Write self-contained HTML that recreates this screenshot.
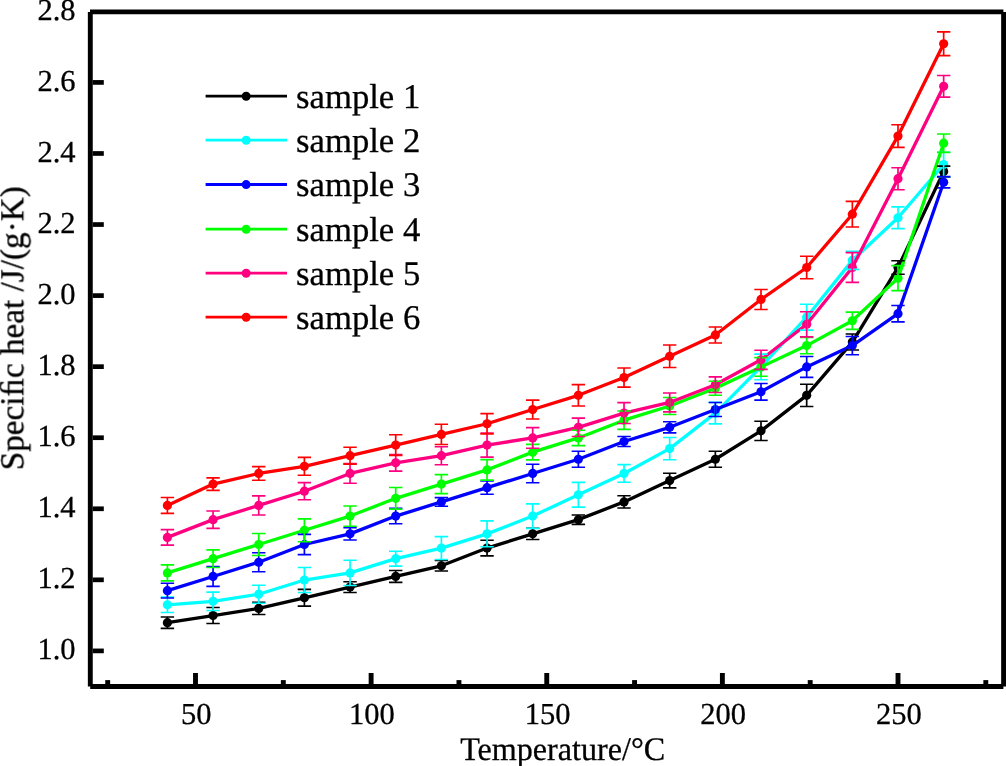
<!DOCTYPE html><html><head><meta charset="utf-8"><style>html,body{margin:0;padding:0;background:#fff;}svg{display:block;} text{text-rendering:geometricPrecision;} .t{opacity:0.999;stroke:#000;stroke-width:0.3px;}</style></head><body>
<svg width="1006" height="766" viewBox="0 0 1006 766">
<rect width="1006" height="766" fill="#fff"/>
<g><path d="M167.40 622.63 L213.06 615.52 L258.73 608.42 L304.39 597.77 L350.05 587.11 L395.71 576.46 L441.38 565.80 L487.04 548.05 L532.70 533.84 L578.36 519.63 L624.03 501.88 L669.69 480.57 L715.35 459.26 L761.01 430.85 L806.68 395.33 L852.34 342.06 L898.00 267.48 L943.66 171.59" stroke="#000000" stroke-width="3.3" fill="none" stroke-linejoin="round"/><circle cx="167.40" cy="622.63" r="4.6" fill="#000000"/><circle cx="213.06" cy="615.52" r="4.6" fill="#000000"/><circle cx="258.73" cy="608.42" r="4.6" fill="#000000"/><circle cx="304.39" cy="597.77" r="4.6" fill="#000000"/><circle cx="350.05" cy="587.11" r="4.6" fill="#000000"/><circle cx="395.71" cy="576.46" r="4.6" fill="#000000"/><circle cx="441.38" cy="565.80" r="4.6" fill="#000000"/><circle cx="487.04" cy="548.05" r="4.6" fill="#000000"/><circle cx="532.70" cy="533.84" r="4.6" fill="#000000"/><circle cx="578.36" cy="519.63" r="4.6" fill="#000000"/><circle cx="624.03" cy="501.88" r="4.6" fill="#000000"/><circle cx="669.69" cy="480.57" r="4.6" fill="#000000"/><circle cx="715.35" cy="459.26" r="4.6" fill="#000000"/><circle cx="761.01" cy="430.85" r="4.6" fill="#000000"/><circle cx="806.68" cy="395.33" r="4.6" fill="#000000"/><circle cx="852.34" cy="342.06" r="4.6" fill="#000000"/><circle cx="898.00" cy="267.48" r="4.6" fill="#000000"/><circle cx="943.66" cy="171.59" r="4.6" fill="#000000"/></g>
<g><path d="M167.40 604.87 L213.06 601.32 L258.73 594.22 L304.39 580.01 L350.05 572.91 L395.71 558.70 L441.38 548.05 L487.04 533.84 L532.70 516.08 L578.36 494.77 L624.03 473.46 L669.69 448.60 L715.35 413.09 L761.01 366.92 L806.68 317.20 L852.34 260.37 L898.00 217.76 L943.66 164.48" stroke="#00FFFF" stroke-width="3.3" fill="none" stroke-linejoin="round"/><circle cx="167.40" cy="604.87" r="4.6" fill="#00FFFF"/><circle cx="213.06" cy="601.32" r="4.6" fill="#00FFFF"/><circle cx="258.73" cy="594.22" r="4.6" fill="#00FFFF"/><circle cx="304.39" cy="580.01" r="4.6" fill="#00FFFF"/><circle cx="350.05" cy="572.91" r="4.6" fill="#00FFFF"/><circle cx="395.71" cy="558.70" r="4.6" fill="#00FFFF"/><circle cx="441.38" cy="548.05" r="4.6" fill="#00FFFF"/><circle cx="487.04" cy="533.84" r="4.6" fill="#00FFFF"/><circle cx="532.70" cy="516.08" r="4.6" fill="#00FFFF"/><circle cx="578.36" cy="494.77" r="4.6" fill="#00FFFF"/><circle cx="624.03" cy="473.46" r="4.6" fill="#00FFFF"/><circle cx="669.69" cy="448.60" r="4.6" fill="#00FFFF"/><circle cx="715.35" cy="413.09" r="4.6" fill="#00FFFF"/><circle cx="761.01" cy="366.92" r="4.6" fill="#00FFFF"/><circle cx="806.68" cy="317.20" r="4.6" fill="#00FFFF"/><circle cx="852.34" cy="260.37" r="4.6" fill="#00FFFF"/><circle cx="898.00" cy="217.76" r="4.6" fill="#00FFFF"/><circle cx="943.66" cy="164.48" r="4.6" fill="#00FFFF"/></g>
<g><path d="M167.40 590.66 L213.06 576.46 L258.73 562.25 L304.39 544.49 L350.05 533.84 L395.71 516.08 L441.38 501.88 L487.04 487.67 L532.70 473.46 L578.36 459.26 L624.03 441.50 L669.69 427.30 L715.35 409.54 L761.01 391.78 L806.68 366.92 L852.34 345.61 L898.00 313.65 L943.66 182.24" stroke="#0000FF" stroke-width="3.3" fill="none" stroke-linejoin="round"/><circle cx="167.40" cy="590.66" r="4.6" fill="#0000FF"/><circle cx="213.06" cy="576.46" r="4.6" fill="#0000FF"/><circle cx="258.73" cy="562.25" r="4.6" fill="#0000FF"/><circle cx="304.39" cy="544.49" r="4.6" fill="#0000FF"/><circle cx="350.05" cy="533.84" r="4.6" fill="#0000FF"/><circle cx="395.71" cy="516.08" r="4.6" fill="#0000FF"/><circle cx="441.38" cy="501.88" r="4.6" fill="#0000FF"/><circle cx="487.04" cy="487.67" r="4.6" fill="#0000FF"/><circle cx="532.70" cy="473.46" r="4.6" fill="#0000FF"/><circle cx="578.36" cy="459.26" r="4.6" fill="#0000FF"/><circle cx="624.03" cy="441.50" r="4.6" fill="#0000FF"/><circle cx="669.69" cy="427.30" r="4.6" fill="#0000FF"/><circle cx="715.35" cy="409.54" r="4.6" fill="#0000FF"/><circle cx="761.01" cy="391.78" r="4.6" fill="#0000FF"/><circle cx="806.68" cy="366.92" r="4.6" fill="#0000FF"/><circle cx="852.34" cy="345.61" r="4.6" fill="#0000FF"/><circle cx="898.00" cy="313.65" r="4.6" fill="#0000FF"/><circle cx="943.66" cy="182.24" r="4.6" fill="#0000FF"/></g>
<g><path d="M167.40 572.91 L213.06 558.70 L258.73 544.49 L304.39 530.29 L350.05 516.08 L395.71 498.33 L441.38 484.12 L487.04 469.91 L532.70 452.16 L578.36 437.95 L624.03 420.19 L669.69 405.99 L715.35 388.23 L761.01 366.92 L806.68 345.61 L852.34 320.75 L898.00 278.13 L943.66 143.18" stroke="#00FF00" stroke-width="3.3" fill="none" stroke-linejoin="round"/><circle cx="167.40" cy="572.91" r="4.6" fill="#00FF00"/><circle cx="213.06" cy="558.70" r="4.6" fill="#00FF00"/><circle cx="258.73" cy="544.49" r="4.6" fill="#00FF00"/><circle cx="304.39" cy="530.29" r="4.6" fill="#00FF00"/><circle cx="350.05" cy="516.08" r="4.6" fill="#00FF00"/><circle cx="395.71" cy="498.33" r="4.6" fill="#00FF00"/><circle cx="441.38" cy="484.12" r="4.6" fill="#00FF00"/><circle cx="487.04" cy="469.91" r="4.6" fill="#00FF00"/><circle cx="532.70" cy="452.16" r="4.6" fill="#00FF00"/><circle cx="578.36" cy="437.95" r="4.6" fill="#00FF00"/><circle cx="624.03" cy="420.19" r="4.6" fill="#00FF00"/><circle cx="669.69" cy="405.99" r="4.6" fill="#00FF00"/><circle cx="715.35" cy="388.23" r="4.6" fill="#00FF00"/><circle cx="761.01" cy="366.92" r="4.6" fill="#00FF00"/><circle cx="806.68" cy="345.61" r="4.6" fill="#00FF00"/><circle cx="852.34" cy="320.75" r="4.6" fill="#00FF00"/><circle cx="898.00" cy="278.13" r="4.6" fill="#00FF00"/><circle cx="943.66" cy="143.18" r="4.6" fill="#00FF00"/></g>
<g><path d="M167.40 537.39 L213.06 519.63 L258.73 505.43 L304.39 491.22 L350.05 473.46 L395.71 462.81 L441.38 455.71 L487.04 445.05 L532.70 437.95 L578.36 427.30 L624.03 413.09 L669.69 402.44 L715.35 384.68 L761.01 359.82 L806.68 324.30 L852.34 267.48 L898.00 178.69 L943.66 86.35" stroke="#FF0080" stroke-width="3.3" fill="none" stroke-linejoin="round"/><circle cx="167.40" cy="537.39" r="4.6" fill="#FF0080"/><circle cx="213.06" cy="519.63" r="4.6" fill="#FF0080"/><circle cx="258.73" cy="505.43" r="4.6" fill="#FF0080"/><circle cx="304.39" cy="491.22" r="4.6" fill="#FF0080"/><circle cx="350.05" cy="473.46" r="4.6" fill="#FF0080"/><circle cx="395.71" cy="462.81" r="4.6" fill="#FF0080"/><circle cx="441.38" cy="455.71" r="4.6" fill="#FF0080"/><circle cx="487.04" cy="445.05" r="4.6" fill="#FF0080"/><circle cx="532.70" cy="437.95" r="4.6" fill="#FF0080"/><circle cx="578.36" cy="427.30" r="4.6" fill="#FF0080"/><circle cx="624.03" cy="413.09" r="4.6" fill="#FF0080"/><circle cx="669.69" cy="402.44" r="4.6" fill="#FF0080"/><circle cx="715.35" cy="384.68" r="4.6" fill="#FF0080"/><circle cx="761.01" cy="359.82" r="4.6" fill="#FF0080"/><circle cx="806.68" cy="324.30" r="4.6" fill="#FF0080"/><circle cx="852.34" cy="267.48" r="4.6" fill="#FF0080"/><circle cx="898.00" cy="178.69" r="4.6" fill="#FF0080"/><circle cx="943.66" cy="86.35" r="4.6" fill="#FF0080"/></g>
<g><path d="M167.40 505.43 L213.06 484.12 L258.73 473.46 L304.39 466.36 L350.05 455.71 L395.71 445.05 L441.38 434.40 L487.04 423.74 L532.70 409.54 L578.36 395.33 L624.03 377.57 L669.69 356.27 L715.35 334.96 L761.01 299.44 L806.68 267.48 L852.34 214.21 L898.00 136.07 L943.66 43.73" stroke="#FF0000" stroke-width="3.3" fill="none" stroke-linejoin="round"/><circle cx="167.40" cy="505.43" r="4.6" fill="#FF0000"/><circle cx="213.06" cy="484.12" r="4.6" fill="#FF0000"/><circle cx="258.73" cy="473.46" r="4.6" fill="#FF0000"/><circle cx="304.39" cy="466.36" r="4.6" fill="#FF0000"/><circle cx="350.05" cy="455.71" r="4.6" fill="#FF0000"/><circle cx="395.71" cy="445.05" r="4.6" fill="#FF0000"/><circle cx="441.38" cy="434.40" r="4.6" fill="#FF0000"/><circle cx="487.04" cy="423.74" r="4.6" fill="#FF0000"/><circle cx="532.70" cy="409.54" r="4.6" fill="#FF0000"/><circle cx="578.36" cy="395.33" r="4.6" fill="#FF0000"/><circle cx="624.03" cy="377.57" r="4.6" fill="#FF0000"/><circle cx="669.69" cy="356.27" r="4.6" fill="#FF0000"/><circle cx="715.35" cy="334.96" r="4.6" fill="#FF0000"/><circle cx="761.01" cy="299.44" r="4.6" fill="#FF0000"/><circle cx="806.68" cy="267.48" r="4.6" fill="#FF0000"/><circle cx="852.34" cy="214.21" r="4.6" fill="#FF0000"/><circle cx="898.00" cy="136.07" r="4.6" fill="#FF0000"/><circle cx="943.66" cy="43.73" r="4.6" fill="#FF0000"/></g>
<g><path d="M167.40 616.93V628.33" stroke="#000000" stroke-width="1.7" fill="none"/><path d="M160.70 616.93H174.10M160.70 628.33H174.10" stroke="#000000" stroke-width="1.6" fill="none"/><path d="M213.06 607.52V623.52" stroke="#000000" stroke-width="1.7" fill="none"/><path d="M206.36 607.52H219.76M206.36 623.52H219.76" stroke="#000000" stroke-width="1.6" fill="none"/><path d="M258.73 602.27V614.57" stroke="#000000" stroke-width="1.7" fill="none"/><path d="M252.03 602.27H265.43M252.03 614.57H265.43" stroke="#000000" stroke-width="1.6" fill="none"/><path d="M304.39 589.37V606.17" stroke="#000000" stroke-width="1.7" fill="none"/><path d="M297.69 589.37H311.09M297.69 606.17H311.09" stroke="#000000" stroke-width="1.6" fill="none"/><path d="M350.05 581.71V592.51" stroke="#000000" stroke-width="1.7" fill="none"/><path d="M343.35 581.71H356.75M343.35 592.51H356.75" stroke="#000000" stroke-width="1.6" fill="none"/><path d="M395.71 570.56V582.36" stroke="#000000" stroke-width="1.7" fill="none"/><path d="M389.01 570.56H402.41M389.01 582.36H402.41" stroke="#000000" stroke-width="1.6" fill="none"/><path d="M441.38 560.55V571.05" stroke="#000000" stroke-width="1.7" fill="none"/><path d="M434.68 560.55H448.07M434.68 571.05H448.07" stroke="#000000" stroke-width="1.6" fill="none"/><path d="M487.04 540.25V555.85" stroke="#000000" stroke-width="1.7" fill="none"/><path d="M480.34 540.25H493.74M480.34 555.85H493.74" stroke="#000000" stroke-width="1.6" fill="none"/><path d="M532.70 528.24V539.44" stroke="#000000" stroke-width="1.7" fill="none"/><path d="M526.00 528.24H539.40M526.00 539.44H539.40" stroke="#000000" stroke-width="1.6" fill="none"/><path d="M578.36 514.93V524.33" stroke="#000000" stroke-width="1.7" fill="none"/><path d="M571.66 514.93H585.06M571.66 524.33H585.06" stroke="#000000" stroke-width="1.6" fill="none"/><path d="M624.03 495.78V507.98" stroke="#000000" stroke-width="1.7" fill="none"/><path d="M617.33 495.78H630.73M617.33 507.98H630.73" stroke="#000000" stroke-width="1.6" fill="none"/><path d="M669.69 473.22V487.92" stroke="#000000" stroke-width="1.7" fill="none"/><path d="M662.99 473.22H676.39M662.99 487.92H676.39" stroke="#000000" stroke-width="1.6" fill="none"/><path d="M715.35 451.26V467.26" stroke="#000000" stroke-width="1.7" fill="none"/><path d="M708.65 451.26H722.05M708.65 467.26H722.05" stroke="#000000" stroke-width="1.6" fill="none"/><path d="M761.01 421.25V440.45" stroke="#000000" stroke-width="1.7" fill="none"/><path d="M754.31 421.25H767.71M754.31 440.45H767.71" stroke="#000000" stroke-width="1.6" fill="none"/><path d="M806.68 384.23V406.43" stroke="#000000" stroke-width="1.7" fill="none"/><path d="M799.98 384.23H813.38M799.98 406.43H813.38" stroke="#000000" stroke-width="1.6" fill="none"/><path d="M852.34 334.06V350.06" stroke="#000000" stroke-width="1.7" fill="none"/><path d="M845.64 334.06H859.04M845.64 350.06H859.04" stroke="#000000" stroke-width="1.6" fill="none"/><path d="M898.00 260.78V274.18" stroke="#000000" stroke-width="1.7" fill="none"/><path d="M891.30 260.78H904.70M891.30 274.18H904.70" stroke="#000000" stroke-width="1.6" fill="none"/><path d="M943.66 166.09V177.09" stroke="#000000" stroke-width="1.7" fill="none"/><path d="M936.96 166.09H950.36M936.96 177.09H950.36" stroke="#000000" stroke-width="1.6" fill="none"/></g>
<g><path d="M167.40 597.17V612.57" stroke="#00FFFF" stroke-width="1.7" fill="none"/><path d="M160.70 597.17H174.10M160.70 612.57H174.10" stroke="#00FFFF" stroke-width="1.6" fill="none"/><path d="M213.06 592.17V610.47" stroke="#00FFFF" stroke-width="1.7" fill="none"/><path d="M206.36 592.17H219.76M206.36 610.47H219.76" stroke="#00FFFF" stroke-width="1.6" fill="none"/><path d="M258.73 585.22V603.22" stroke="#00FFFF" stroke-width="1.7" fill="none"/><path d="M252.03 585.22H265.43M252.03 603.22H265.43" stroke="#00FFFF" stroke-width="1.6" fill="none"/><path d="M304.39 567.56V592.46" stroke="#00FFFF" stroke-width="1.7" fill="none"/><path d="M297.69 567.56H311.09M297.69 592.46H311.09" stroke="#00FFFF" stroke-width="1.6" fill="none"/><path d="M350.05 560.31V585.51" stroke="#00FFFF" stroke-width="1.7" fill="none"/><path d="M343.35 560.31H356.75M343.35 585.51H356.75" stroke="#00FFFF" stroke-width="1.6" fill="none"/><path d="M395.71 551.25V566.15" stroke="#00FFFF" stroke-width="1.7" fill="none"/><path d="M389.01 551.25H402.41M389.01 566.15H402.41" stroke="#00FFFF" stroke-width="1.6" fill="none"/><path d="M441.38 536.65V559.45" stroke="#00FFFF" stroke-width="1.7" fill="none"/><path d="M434.68 536.65H448.07M434.68 559.45H448.07" stroke="#00FFFF" stroke-width="1.6" fill="none"/><path d="M487.04 520.89V546.79" stroke="#00FFFF" stroke-width="1.7" fill="none"/><path d="M480.34 520.89H493.74M480.34 546.79H493.74" stroke="#00FFFF" stroke-width="1.6" fill="none"/><path d="M532.70 503.83V528.33" stroke="#00FFFF" stroke-width="1.7" fill="none"/><path d="M526.00 503.83H539.40M526.00 528.33H539.40" stroke="#00FFFF" stroke-width="1.6" fill="none"/><path d="M578.36 482.42V507.12" stroke="#00FFFF" stroke-width="1.7" fill="none"/><path d="M571.66 482.42H585.06M571.66 507.12H585.06" stroke="#00FFFF" stroke-width="1.6" fill="none"/><path d="M624.03 464.61V482.31" stroke="#00FFFF" stroke-width="1.7" fill="none"/><path d="M617.33 464.61H630.73M617.33 482.31H630.73" stroke="#00FFFF" stroke-width="1.6" fill="none"/><path d="M669.69 437.50V459.70" stroke="#00FFFF" stroke-width="1.7" fill="none"/><path d="M662.99 437.50H676.39M662.99 459.70H676.39" stroke="#00FFFF" stroke-width="1.6" fill="none"/><path d="M715.35 402.34V423.84" stroke="#00FFFF" stroke-width="1.7" fill="none"/><path d="M708.65 402.34H722.05M708.65 423.84H722.05" stroke="#00FFFF" stroke-width="1.6" fill="none"/><path d="M761.01 354.12V379.72" stroke="#00FFFF" stroke-width="1.7" fill="none"/><path d="M754.31 354.12H767.71M754.31 379.72H767.71" stroke="#00FFFF" stroke-width="1.6" fill="none"/><path d="M806.68 304.30V330.10" stroke="#00FFFF" stroke-width="1.7" fill="none"/><path d="M799.98 304.30H813.38M799.98 330.10H813.38" stroke="#00FFFF" stroke-width="1.6" fill="none"/><path d="M852.34 251.37V269.37" stroke="#00FFFF" stroke-width="1.7" fill="none"/><path d="M845.64 251.37H859.04M845.64 269.37H859.04" stroke="#00FFFF" stroke-width="1.6" fill="none"/><path d="M898.00 206.86V228.66" stroke="#00FFFF" stroke-width="1.7" fill="none"/><path d="M891.30 206.86H904.70M891.30 228.66H904.70" stroke="#00FFFF" stroke-width="1.6" fill="none"/><path d="M943.66 152.23V176.73" stroke="#00FFFF" stroke-width="1.7" fill="none"/><path d="M936.96 152.23H950.36M936.96 176.73H950.36" stroke="#00FFFF" stroke-width="1.6" fill="none"/></g>
<g><path d="M167.40 583.31V598.01" stroke="#0000FF" stroke-width="1.7" fill="none"/><path d="M160.70 583.31H174.10M160.70 598.01H174.10" stroke="#0000FF" stroke-width="1.6" fill="none"/><path d="M213.06 566.56V586.36" stroke="#0000FF" stroke-width="1.7" fill="none"/><path d="M206.36 566.56H219.76M206.36 586.36H219.76" stroke="#0000FF" stroke-width="1.6" fill="none"/><path d="M258.73 552.75V571.75" stroke="#0000FF" stroke-width="1.7" fill="none"/><path d="M252.03 552.75H265.43M252.03 571.75H265.43" stroke="#0000FF" stroke-width="1.6" fill="none"/><path d="M304.39 534.34V554.64" stroke="#0000FF" stroke-width="1.7" fill="none"/><path d="M297.69 534.34H311.09M297.69 554.64H311.09" stroke="#0000FF" stroke-width="1.6" fill="none"/><path d="M350.05 527.74V539.94" stroke="#0000FF" stroke-width="1.7" fill="none"/><path d="M343.35 527.74H356.75M343.35 539.94H356.75" stroke="#0000FF" stroke-width="1.6" fill="none"/><path d="M395.71 508.38V523.78" stroke="#0000FF" stroke-width="1.7" fill="none"/><path d="M389.01 508.38H402.41M389.01 523.78H402.41" stroke="#0000FF" stroke-width="1.6" fill="none"/><path d="M441.38 497.58V506.18" stroke="#0000FF" stroke-width="1.7" fill="none"/><path d="M434.68 497.58H448.07M434.68 506.18H448.07" stroke="#0000FF" stroke-width="1.6" fill="none"/><path d="M487.04 481.07V494.27" stroke="#0000FF" stroke-width="1.7" fill="none"/><path d="M480.34 481.07H493.74M480.34 494.27H493.74" stroke="#0000FF" stroke-width="1.6" fill="none"/><path d="M532.70 464.21V482.71" stroke="#0000FF" stroke-width="1.7" fill="none"/><path d="M526.00 464.21H539.40M526.00 482.71H539.40" stroke="#0000FF" stroke-width="1.6" fill="none"/><path d="M578.36 451.26V467.26" stroke="#0000FF" stroke-width="1.7" fill="none"/><path d="M571.66 451.26H585.06M571.66 467.26H585.06" stroke="#0000FF" stroke-width="1.6" fill="none"/><path d="M624.03 436.45V446.55" stroke="#0000FF" stroke-width="1.7" fill="none"/><path d="M617.33 436.45H630.73M617.33 446.55H630.73" stroke="#0000FF" stroke-width="1.6" fill="none"/><path d="M669.69 421.75V432.85" stroke="#0000FF" stroke-width="1.7" fill="none"/><path d="M662.99 421.75H676.39M662.99 432.85H676.39" stroke="#0000FF" stroke-width="1.6" fill="none"/><path d="M715.35 402.54V416.54" stroke="#0000FF" stroke-width="1.7" fill="none"/><path d="M708.65 402.54H722.05M708.65 416.54H722.05" stroke="#0000FF" stroke-width="1.6" fill="none"/><path d="M761.01 383.48V400.08" stroke="#0000FF" stroke-width="1.7" fill="none"/><path d="M754.31 383.48H767.71M754.31 400.08H767.71" stroke="#0000FF" stroke-width="1.6" fill="none"/><path d="M806.68 356.47V377.37" stroke="#0000FF" stroke-width="1.7" fill="none"/><path d="M799.98 356.47H813.38M799.98 377.37H813.38" stroke="#0000FF" stroke-width="1.6" fill="none"/><path d="M852.34 336.51V354.71" stroke="#0000FF" stroke-width="1.7" fill="none"/><path d="M845.64 336.51H859.04M845.64 354.71H859.04" stroke="#0000FF" stroke-width="1.6" fill="none"/><path d="M898.00 305.45V321.85" stroke="#0000FF" stroke-width="1.7" fill="none"/><path d="M891.30 305.45H904.70M891.30 321.85H904.70" stroke="#0000FF" stroke-width="1.6" fill="none"/><path d="M943.66 176.64V187.84" stroke="#0000FF" stroke-width="1.7" fill="none"/><path d="M936.96 176.64H950.36M936.96 187.84H950.36" stroke="#0000FF" stroke-width="1.6" fill="none"/></g>
<g><path d="M167.40 564.91V580.91" stroke="#00FF00" stroke-width="1.7" fill="none"/><path d="M160.70 564.91H174.10M160.70 580.91H174.10" stroke="#00FF00" stroke-width="1.6" fill="none"/><path d="M213.06 549.90V567.50" stroke="#00FF00" stroke-width="1.7" fill="none"/><path d="M206.36 549.90H219.76M206.36 567.50H219.76" stroke="#00FF00" stroke-width="1.6" fill="none"/><path d="M258.73 533.54V555.44" stroke="#00FF00" stroke-width="1.7" fill="none"/><path d="M252.03 533.54H265.43M252.03 555.44H265.43" stroke="#00FF00" stroke-width="1.6" fill="none"/><path d="M304.39 518.89V541.69" stroke="#00FF00" stroke-width="1.7" fill="none"/><path d="M297.69 518.89H311.09M297.69 541.69H311.09" stroke="#00FF00" stroke-width="1.6" fill="none"/><path d="M350.05 505.98V526.18" stroke="#00FF00" stroke-width="1.7" fill="none"/><path d="M343.35 505.98H356.75M343.35 526.18H356.75" stroke="#00FF00" stroke-width="1.6" fill="none"/><path d="M395.71 487.53V509.13" stroke="#00FF00" stroke-width="1.7" fill="none"/><path d="M389.01 487.53H402.41M389.01 509.13H402.41" stroke="#00FF00" stroke-width="1.6" fill="none"/><path d="M441.38 474.62V493.62" stroke="#00FF00" stroke-width="1.7" fill="none"/><path d="M434.68 474.62H448.07M434.68 493.62H448.07" stroke="#00FF00" stroke-width="1.6" fill="none"/><path d="M487.04 459.66V480.16" stroke="#00FF00" stroke-width="1.7" fill="none"/><path d="M480.34 459.66H493.74M480.34 480.16H493.74" stroke="#00FF00" stroke-width="1.6" fill="none"/><path d="M532.70 444.41V459.91" stroke="#00FF00" stroke-width="1.7" fill="none"/><path d="M526.00 444.41H539.40M526.00 459.91H539.40" stroke="#00FF00" stroke-width="1.6" fill="none"/><path d="M578.36 430.30V445.60" stroke="#00FF00" stroke-width="1.7" fill="none"/><path d="M571.66 430.30H585.06M571.66 445.60H585.06" stroke="#00FF00" stroke-width="1.6" fill="none"/><path d="M624.03 411.04V429.34" stroke="#00FF00" stroke-width="1.7" fill="none"/><path d="M617.33 411.04H630.73M617.33 429.34H630.73" stroke="#00FF00" stroke-width="1.6" fill="none"/><path d="M669.69 397.49V414.49" stroke="#00FF00" stroke-width="1.7" fill="none"/><path d="M662.99 397.49H676.39M662.99 414.49H676.39" stroke="#00FF00" stroke-width="1.6" fill="none"/><path d="M715.35 381.23V395.23" stroke="#00FF00" stroke-width="1.7" fill="none"/><path d="M708.65 381.23H722.05M708.65 395.23H722.05" stroke="#00FF00" stroke-width="1.6" fill="none"/><path d="M761.01 357.62V376.22" stroke="#00FF00" stroke-width="1.7" fill="none"/><path d="M754.31 357.62H767.71M754.31 376.22H767.71" stroke="#00FF00" stroke-width="1.6" fill="none"/><path d="M806.68 337.41V353.81" stroke="#00FF00" stroke-width="1.7" fill="none"/><path d="M799.98 337.41H813.38M799.98 353.81H813.38" stroke="#00FF00" stroke-width="1.6" fill="none"/><path d="M852.34 312.15V329.35" stroke="#00FF00" stroke-width="1.7" fill="none"/><path d="M845.64 312.15H859.04M845.64 329.35H859.04" stroke="#00FF00" stroke-width="1.6" fill="none"/><path d="M898.00 265.63V290.63" stroke="#00FF00" stroke-width="1.7" fill="none"/><path d="M891.30 265.63H904.70M891.30 290.63H904.70" stroke="#00FF00" stroke-width="1.6" fill="none"/><path d="M943.66 133.98V152.38" stroke="#00FF00" stroke-width="1.7" fill="none"/><path d="M936.96 133.98H950.36M936.96 152.38H950.36" stroke="#00FF00" stroke-width="1.6" fill="none"/></g>
<g><path d="M167.40 529.64V545.14" stroke="#FF0080" stroke-width="1.7" fill="none"/><path d="M160.70 529.64H174.10M160.70 545.14H174.10" stroke="#FF0080" stroke-width="1.6" fill="none"/><path d="M213.06 510.93V528.33" stroke="#FF0080" stroke-width="1.7" fill="none"/><path d="M206.36 510.93H219.76M206.36 528.33H219.76" stroke="#FF0080" stroke-width="1.6" fill="none"/><path d="M258.73 495.83V515.03" stroke="#FF0080" stroke-width="1.7" fill="none"/><path d="M252.03 495.83H265.43M252.03 515.03H265.43" stroke="#FF0080" stroke-width="1.6" fill="none"/><path d="M304.39 482.67V499.77" stroke="#FF0080" stroke-width="1.7" fill="none"/><path d="M297.69 482.67H311.09M297.69 499.77H311.09" stroke="#FF0080" stroke-width="1.6" fill="none"/><path d="M350.05 463.66V483.26" stroke="#FF0080" stroke-width="1.7" fill="none"/><path d="M343.35 463.66H356.75M343.35 483.26H356.75" stroke="#FF0080" stroke-width="1.6" fill="none"/><path d="M395.71 454.51V471.11" stroke="#FF0080" stroke-width="1.7" fill="none"/><path d="M389.01 454.51H402.41M389.01 471.11H402.41" stroke="#FF0080" stroke-width="1.6" fill="none"/><path d="M441.38 446.71V464.71" stroke="#FF0080" stroke-width="1.7" fill="none"/><path d="M434.68 446.71H448.07M434.68 464.71H448.07" stroke="#FF0080" stroke-width="1.6" fill="none"/><path d="M487.04 432.95V457.15" stroke="#FF0080" stroke-width="1.7" fill="none"/><path d="M480.34 432.95H493.74M480.34 457.15H493.74" stroke="#FF0080" stroke-width="1.6" fill="none"/><path d="M532.70 427.65V448.25" stroke="#FF0080" stroke-width="1.7" fill="none"/><path d="M526.00 427.65H539.40M526.00 448.25H539.40" stroke="#FF0080" stroke-width="1.6" fill="none"/><path d="M578.36 418.10V436.50" stroke="#FF0080" stroke-width="1.7" fill="none"/><path d="M571.66 418.10H585.06M571.66 436.50H585.06" stroke="#FF0080" stroke-width="1.6" fill="none"/><path d="M624.03 402.64V423.54" stroke="#FF0080" stroke-width="1.7" fill="none"/><path d="M617.33 402.64H630.73M617.33 423.54H630.73" stroke="#FF0080" stroke-width="1.6" fill="none"/><path d="M669.69 392.99V411.88" stroke="#FF0080" stroke-width="1.7" fill="none"/><path d="M662.99 392.99H676.39M662.99 411.88H676.39" stroke="#FF0080" stroke-width="1.6" fill="none"/><path d="M715.35 376.88V392.48" stroke="#FF0080" stroke-width="1.7" fill="none"/><path d="M708.65 376.88H722.05M708.65 392.48H722.05" stroke="#FF0080" stroke-width="1.6" fill="none"/><path d="M761.01 350.22V369.42" stroke="#FF0080" stroke-width="1.7" fill="none"/><path d="M754.31 350.22H767.71M754.31 369.42H767.71" stroke="#FF0080" stroke-width="1.6" fill="none"/><path d="M806.68 311.70V336.90" stroke="#FF0080" stroke-width="1.7" fill="none"/><path d="M799.98 311.70H813.38M799.98 336.90H813.38" stroke="#FF0080" stroke-width="1.6" fill="none"/><path d="M852.34 252.58V282.38" stroke="#FF0080" stroke-width="1.7" fill="none"/><path d="M845.64 252.58H859.04M845.64 282.38H859.04" stroke="#FF0080" stroke-width="1.6" fill="none"/><path d="M898.00 167.69V189.69" stroke="#FF0080" stroke-width="1.7" fill="none"/><path d="M891.30 167.69H904.70M891.30 189.69H904.70" stroke="#FF0080" stroke-width="1.6" fill="none"/><path d="M943.66 75.55V97.15" stroke="#FF0080" stroke-width="1.7" fill="none"/><path d="M936.96 75.55H950.36M936.96 97.15H950.36" stroke="#FF0080" stroke-width="1.6" fill="none"/></g>
<g><path d="M167.40 497.53V513.33" stroke="#FF0000" stroke-width="1.7" fill="none"/><path d="M160.70 497.53H174.10M160.70 513.33H174.10" stroke="#FF0000" stroke-width="1.6" fill="none"/><path d="M213.06 477.87V490.37" stroke="#FF0000" stroke-width="1.7" fill="none"/><path d="M206.36 477.87H219.76M206.36 490.37H219.76" stroke="#FF0000" stroke-width="1.6" fill="none"/><path d="M258.73 466.61V480.31" stroke="#FF0000" stroke-width="1.7" fill="none"/><path d="M252.03 466.61H265.43M252.03 480.31H265.43" stroke="#FF0000" stroke-width="1.6" fill="none"/><path d="M304.39 457.41V475.31" stroke="#FF0000" stroke-width="1.7" fill="none"/><path d="M297.69 457.41H311.09M297.69 475.31H311.09" stroke="#FF0000" stroke-width="1.6" fill="none"/><path d="M350.05 447.31V464.11" stroke="#FF0000" stroke-width="1.7" fill="none"/><path d="M343.35 447.31H356.75M343.35 464.11H356.75" stroke="#FF0000" stroke-width="1.6" fill="none"/><path d="M395.71 434.70V455.40" stroke="#FF0000" stroke-width="1.7" fill="none"/><path d="M389.01 434.70H402.41M389.01 455.40H402.41" stroke="#FF0000" stroke-width="1.6" fill="none"/><path d="M441.38 424.25V444.55" stroke="#FF0000" stroke-width="1.7" fill="none"/><path d="M434.68 424.25H448.07M434.68 444.55H448.07" stroke="#FF0000" stroke-width="1.6" fill="none"/><path d="M487.04 413.64V433.84" stroke="#FF0000" stroke-width="1.7" fill="none"/><path d="M480.34 413.64H493.74M480.34 433.84H493.74" stroke="#FF0000" stroke-width="1.6" fill="none"/><path d="M532.70 400.14V418.94" stroke="#FF0000" stroke-width="1.7" fill="none"/><path d="M526.00 400.14H539.40M526.00 418.94H539.40" stroke="#FF0000" stroke-width="1.6" fill="none"/><path d="M578.36 384.63V406.03" stroke="#FF0000" stroke-width="1.7" fill="none"/><path d="M571.66 384.63H585.06M571.66 406.03H585.06" stroke="#FF0000" stroke-width="1.6" fill="none"/><path d="M624.03 367.97V387.17" stroke="#FF0000" stroke-width="1.7" fill="none"/><path d="M617.33 367.97H630.73M617.33 387.17H630.73" stroke="#FF0000" stroke-width="1.6" fill="none"/><path d="M669.69 344.97V367.57" stroke="#FF0000" stroke-width="1.7" fill="none"/><path d="M662.99 344.97H676.39M662.99 367.57H676.39" stroke="#FF0000" stroke-width="1.6" fill="none"/><path d="M715.35 326.96V342.96" stroke="#FF0000" stroke-width="1.7" fill="none"/><path d="M708.65 326.96H722.05M708.65 342.96H722.05" stroke="#FF0000" stroke-width="1.6" fill="none"/><path d="M761.01 289.44V309.44" stroke="#FF0000" stroke-width="1.7" fill="none"/><path d="M754.31 289.44H767.71M754.31 309.44H767.71" stroke="#FF0000" stroke-width="1.6" fill="none"/><path d="M806.68 256.28V278.68" stroke="#FF0000" stroke-width="1.7" fill="none"/><path d="M799.98 256.28H813.38M799.98 278.68H813.38" stroke="#FF0000" stroke-width="1.6" fill="none"/><path d="M852.34 201.36V227.06" stroke="#FF0000" stroke-width="1.7" fill="none"/><path d="M845.64 201.36H859.04M845.64 227.06H859.04" stroke="#FF0000" stroke-width="1.6" fill="none"/><path d="M898.00 124.77V147.37" stroke="#FF0000" stroke-width="1.7" fill="none"/><path d="M891.30 124.77H904.70M891.30 147.37H904.70" stroke="#FF0000" stroke-width="1.6" fill="none"/><path d="M943.66 31.83V55.63" stroke="#FF0000" stroke-width="1.7" fill="none"/><path d="M936.96 31.83H950.36M936.96 55.63H950.36" stroke="#FF0000" stroke-width="1.6" fill="none"/></g>
<g stroke="#000" fill="none" stroke-width="4.9">
<path d="M90.3 11.9V686.6"/>
<path d="M90.0 11.85H1003.4"/>
<path d="M1003.6 11.9V686.4"/>
<path d="M90.2 686.5H1003.4"/>
</g>
<g stroke="#000" stroke-width="4.7">
<path d="M92.7 650.90H103.8"/>
<path d="M92.7 579.84H103.8"/>
<path d="M92.7 508.78H103.8"/>
<path d="M92.7 437.72H103.8"/>
<path d="M92.7 366.66H103.8"/>
<path d="M92.7 295.60H103.8"/>
<path d="M92.7 224.54H103.8"/>
<path d="M92.7 153.48H103.8"/>
<path d="M92.7 82.42H103.8"/>
</g>
<g stroke="#000" stroke-width="4.9">
<path d="M195.50 684.2V673"/>
<path d="M371.12 684.2V673"/>
<path d="M546.75 684.2V673"/>
<path d="M722.38 684.2V673"/>
<path d="M898.00 684.2V673"/>
<path d="M107.69 684.2V680.1"/>
<path d="M283.31 684.2V680.1"/>
<path d="M458.94 684.2V680.1"/>
<path d="M634.56 684.2V680.1"/>
<path d="M810.19 684.2V680.1"/>
<path d="M985.81 684.2V680.1"/>
</g>
<g class="t" font-family="Liberation Serif" fill="#000">
<text x="75.5" y="659.00" font-size="30.5" text-anchor="end">1.0</text>
<text x="75.5" y="587.94" font-size="30.5" text-anchor="end">1.2</text>
<text x="75.5" y="516.88" font-size="30.5" text-anchor="end">1.4</text>
<text x="75.5" y="445.82" font-size="30.5" text-anchor="end">1.6</text>
<text x="75.5" y="374.76" font-size="30.5" text-anchor="end">1.8</text>
<text x="75.5" y="303.70" font-size="30.5" text-anchor="end">2.0</text>
<text x="75.5" y="232.64" font-size="30.5" text-anchor="end">2.2</text>
<text x="75.5" y="161.58" font-size="30.5" text-anchor="end">2.4</text>
<text x="75.5" y="90.52" font-size="30.5" text-anchor="end">2.6</text>
<text x="75.5" y="20.26" font-size="30.5" text-anchor="end">2.8</text>
<text x="196.30" y="723.6" font-size="30.5" text-anchor="middle">50</text>
<text x="371.93" y="723.6" font-size="30.5" text-anchor="middle">100</text>
<text x="547.55" y="723.6" font-size="30.5" text-anchor="middle">150</text>
<text x="723.17" y="723.6" font-size="30.5" text-anchor="middle">200</text>
<text x="898.80" y="723.6" font-size="30.5" text-anchor="middle">250</text>
<text x="460.2" y="759.7" font-size="33" textLength="205" lengthAdjust="spacingAndGlyphs">Temperature/°C</text>
<text transform="translate(23.3,470.3) rotate(-90)" font-size="33.5" textLength="284" lengthAdjust="spacingAndGlyphs">Speci&#xFB01;c heat /J/(g·K)</text>
</g>
<g>
<path d="M205.6 96.20H287" stroke="#000000" stroke-width="2.8"/>
<circle cx="246.15" cy="96.30" r="4.5" fill="#000000"/>
<text class="t" x="296" y="108.10" font-family="Liberation Serif" font-size="34.7">sample 1</text>
<path d="M205.6 140.10H287" stroke="#00FFFF" stroke-width="2.8"/>
<circle cx="246.15" cy="140.20" r="4.5" fill="#00FFFF"/>
<text class="t" x="296" y="152.00" font-family="Liberation Serif" font-size="34.7">sample 2</text>
<path d="M205.6 184.50H287" stroke="#0000FF" stroke-width="2.8"/>
<circle cx="246.15" cy="184.60" r="4.5" fill="#0000FF"/>
<text class="t" x="296" y="196.40" font-family="Liberation Serif" font-size="34.7">sample 3</text>
<path d="M205.6 229.20H287" stroke="#00FF00" stroke-width="2.8"/>
<circle cx="246.15" cy="229.30" r="4.5" fill="#00FF00"/>
<text class="t" x="296" y="241.10" font-family="Liberation Serif" font-size="34.7">sample 4</text>
<path d="M205.6 273.10H287" stroke="#FF0080" stroke-width="2.8"/>
<circle cx="246.15" cy="273.20" r="4.5" fill="#FF0080"/>
<text class="t" x="296" y="285.00" font-family="Liberation Serif" font-size="34.7">sample 5</text>
<path d="M205.6 317.20H287" stroke="#FF0000" stroke-width="2.8"/>
<circle cx="246.15" cy="317.30" r="4.5" fill="#FF0000"/>
<text class="t" x="296" y="329.10" font-family="Liberation Serif" font-size="34.7">sample 6</text>
</g>
</svg></body></html>
